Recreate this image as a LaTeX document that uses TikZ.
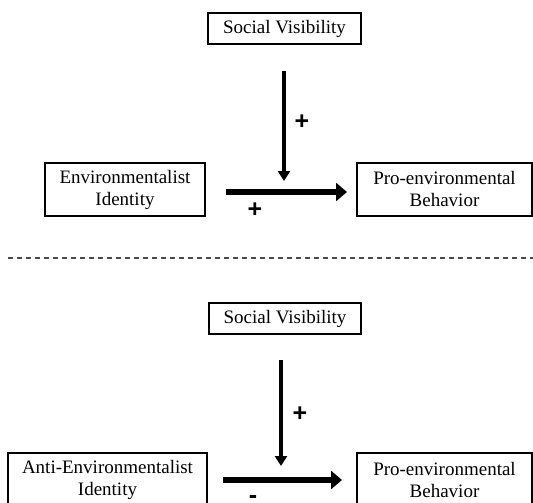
\documentclass[tikz,border=0pt]{standalone}
\usepackage{fontspec}
\setmainfont{Liberation Serif}
\newfontfamily\signfont{Liberation Sans}
\usetikzlibrary{arrows.meta}
\tikzset{
  box/.style={draw=black, line width=1.1pt, align=center, inner sep=0pt,
    font=\fontsize{19}{22}\selectfont},
  effect/.style={line width=5.5pt, -{Triangle[length=11pt,width=18pt]}},
  moderator/.style={line width=3.5pt, -{Triangle[length=10pt,width=12pt]}},
  sign/.style={font=\signfont\bfseries\fontsize{25}{25}\selectfont, inner sep=0pt},
}
\begin{document}
\begin{tikzpicture}[x=1pt,y=-1pt]
\useasboundingbox (0,0) rectangle (533,503);
% top panel
\node[box, minimum width=153pt, minimum height=31pt] (sv1) at (284.5,28.5) {Social Visibility};
\node[box, minimum width=160pt, minimum height=53pt] (ei) at (125,189.5) {Environmentalist\\Identity};
\node[box, minimum width=175pt, minimum height=53pt] (pb1) at (444.5,189.5) {Pro-environmental\\Behavior};
\coordinate (h1s) at (226,192);
\coordinate (h1e) at (347,192);
\coordinate (v1s) at (284,71);
\coordinate (v1e) at (284,181);
\draw[effect] (h1s) -- (h1e);
\draw[moderator] (v1s) -- (v1e);
\node[sign] (p1) at (302,122) {+};
\node[sign] (p2) at (255,210) {+};
% divider
\coordinate (d1) at (8,258);
\coordinate (d2) at (533,258);
\draw[line width=1.3pt, draw=black!70, dash pattern=on 5pt off 4pt] (d1) -- (d2);
% bottom panel
\node[box, minimum width=152pt, minimum height=31pt] (sv2) at (285,318.5) {Social Visibility};
\node[box, minimum width=199pt, minimum height=53pt] (ai) at (107.5,479.5) {Anti-Environmentalist\\Identity};
\node[box, minimum width=175pt, minimum height=53pt] (pb2) at (444.5,479.5) {Pro-environmental\\Behavior};
\coordinate (h2s) at (223,480);
\coordinate (h2e) at (342,480);
\coordinate (v2s) at (281,360);
\coordinate (v2e) at (281,466);
\draw[effect] (h2s) -- (h2e);
\draw[moderator] (v2s) -- (v2e);
\node[sign] (p3) at (300,414) {+};
\node[sign, anchor=base, text depth=0pt, text height=9pt] (m1) at (253,503) {-};
\end{tikzpicture}
\end{document}
